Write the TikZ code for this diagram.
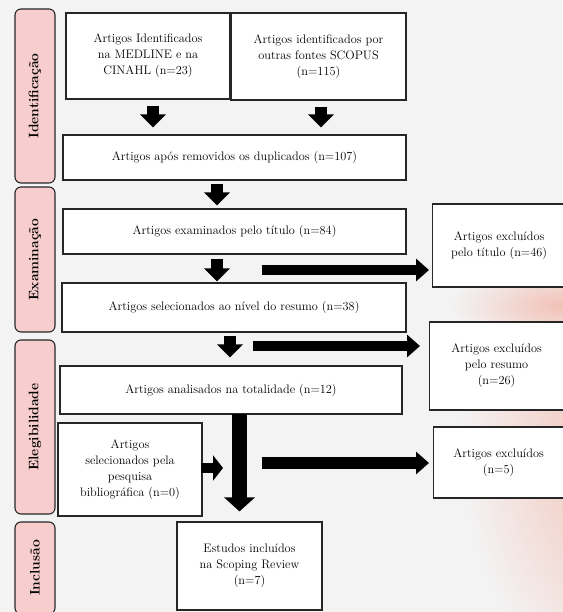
\documentclass[tikz,border=0pt]{standalone}
\usetikzlibrary{arrows.meta}
\definecolor{pinkfill}{RGB}{248,205,205}
\definecolor{bggray}{RGB}{243,243,243}
\definecolor{glow}{RGB}{242,186,174}
\begin{document}
\begin{tikzpicture}[x=1pt,y=-1pt,
  box/.style={draw=black!85, line width=1.1pt, fill=white, align=center, inner sep=2pt,
    font=\fontsize{12.3}{16}\selectfont},
  phase/.style={draw=black!85, line width=1.1pt, fill=pinkfill, rounded corners=6pt,
    rotate=90, minimum height=40pt, inner sep=0pt, font=\bfseries\fontsize{13.8}{15}\selectfont},
  darrow/.style={line width=12pt, -{Triangle[width=25pt,length=13pt]}},
  rarrow/.style={line width=10pt, -{Triangle[width=22pt,length=13pt]}},
  bigarrow/.style={line width=15pt, -{Triangle[width=30pt,length=14pt]}},
  sarrow/.style={line width=10pt, -{Triangle[width=25pt,length=10pt]}}
]
\useasboundingbox (0,0) rectangle (562,612);
\fill[bggray] (0,0) rectangle (562,612);
\shade[inner color=glow, outer color=bggray] (630,440) ellipse [x radius=170pt, y radius=260pt];
\shade[inner color=glow, outer color=bggray, opacity=0.8] (560,305) ellipse [x radius=110pt, y radius=40pt];

% phases
\node[phase, minimum width=174pt] (p1) at (35,96) {Identificação};
\node[phase, minimum width=145pt] (p2) at (35,259.5) {Examinação};
\node[phase, minimum width=174pt] (p3) at (35,427) {Elegibilidade};
\node[phase, minimum width=92pt] (p4) at (35,568) {Inclusão};

% boxes
\node[box, minimum width=164pt, minimum height=86pt] (A) at (148,56) {Artigos Identificados\\na MEDLINE e na\\CINAHL (n=23)};
\node[box, minimum width=175pt, minimum height=87pt] (B) at (318.5,56.5) {Artigos identificados por\\outras fontes SCOPUS\\(n=115)};
\node[box, minimum width=343pt, minimum height=45pt] (C) at (234.5,157.5) {Artigos após removidos os duplicados (n=107)};
\node[box, minimum width=343pt, minimum height=45pt] (D) at (234.5,231.5) {Artigos examinados pelo título (n=84)};
\node[box, minimum width=133pt, minimum height=83pt, anchor=west] (E) at (432,245.5) {Artigos excluídos\\pelo título (n=46)};
\node[box, minimum width=134pt, minimum height=88pt, anchor=west] (G) at (429,366) {Artigos excluídos\\pelo resumo\\(n=26)};
\node[box, minimum width=344pt, minimum height=49pt] (F) at (234,307.5) {Artigos selecionados ao nível do resumo (n=38)};
\node[box, minimum width=342pt, minimum height=48pt] (H) at (231,390) {Artigos analisados na totalidade (n=12)};
\node[box, minimum width=144pt, minimum height=93pt] (I) at (130,469.5) {Artigos\\selecionados pela\\pesquisa\\bibliográfica (n=0)};
\node[box, minimum width=130pt, minimum height=71pt, anchor=west] (J) at (433,462.5) {Artigos excluídos\\(n=5)};
\node[box, minimum width=145pt, minimum height=88pt] (K) at (249.5,566) {Estudos incluídos\\na Scoping Review\\(n=7)};

% free ends
\coordinate (r1) at (262,270);
\coordinate (r2) at (253,346);
\coordinate (r3) at (262,463);
\coordinate (s1) at (223,468);

% arrows
\draw[darrow, shorten <=6pt, shorten >=7pt] ([xshift=5pt]A.south) -- ([xshift=5pt]A.south |- C.north);
\draw[darrow, shorten <=6pt, shorten >=7pt] ([xshift=2.5pt]B.south) -- ([xshift=2.5pt]B.south |- C.north);
\draw[darrow, shorten <=3pt, shorten >=3pt] ([xshift=-17.5pt]C.south) -- ([xshift=-17.5pt]C.south |- D.north);
\draw[darrow, shorten <=4pt, shorten >=1pt] ([xshift=-17.5pt]D.south) -- ([xshift=-17.5pt]D.south |- F.north);
\draw[darrow, shorten <=3pt, shorten >=8pt] ([xshift=-4pt]F.south) -- ([xshift=-4pt]F.south |- H.north);
\draw[bigarrow, shorten <=-1pt, shorten >=10pt] ([xshift=8.5pt]H.south) -- ([xshift=8.5pt]H.south |- K.north);
\draw[rarrow, shorten >=3pt] (r1) -- (r1 -| E.west);
\draw[rarrow, shorten >=9pt] (r2) -- (r2 -| G.west);
\draw[rarrow, line width=12pt, shorten >=4pt] (r3) -- (r3 -| J.west);
\draw[sarrow, shorten <=-2pt] (I.east |- s1) -- (s1);
\end{tikzpicture}
\end{document}
